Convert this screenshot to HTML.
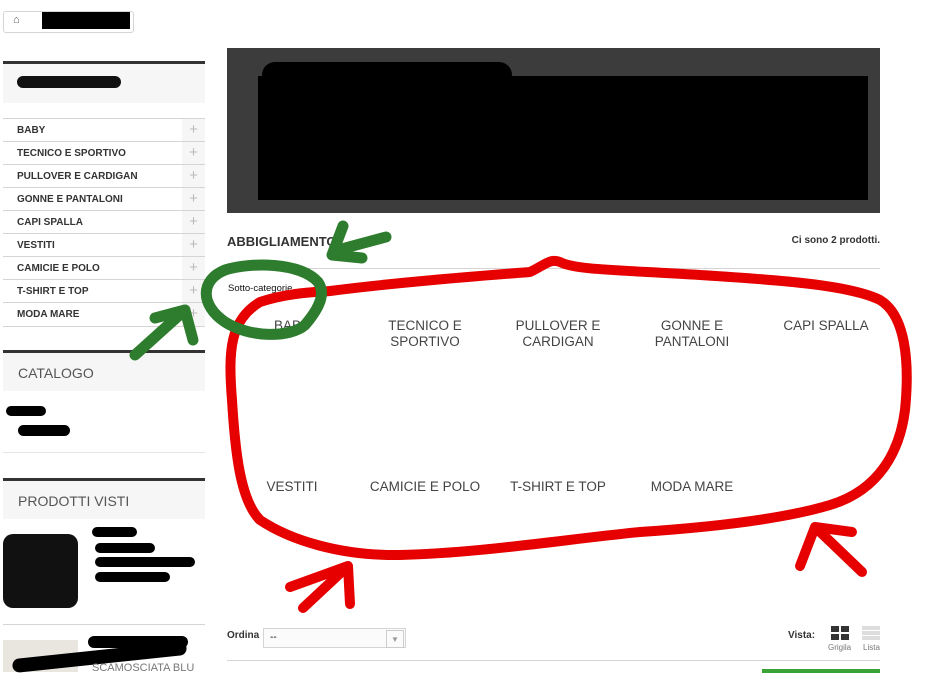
<!DOCTYPE html>
<html><head><meta charset="utf-8"><style>
body{margin:0;width:942px;height:672px;overflow:hidden;background:#fff;font-family:"Liberation Sans",Arial,sans-serif;position:relative}
.a{position:absolute}
.li{position:absolute;left:3px;width:202px;height:23px;border-top:1px solid #d6d4d4;font-size:10px;font-weight:bold;color:#333;line-height:23px}
.li span{margin-left:14px}
.li b{position:absolute;right:0;top:0;width:23px;height:23px;background:#f6f6f6;color:#bbb;font-size:15px;text-align:center;line-height:22px;font-weight:normal}
.hd{position:absolute;left:3px;width:202px;background:#f6f6f6;border-top:3px solid #333;font-size:14px;color:#555;}
.sc{position:absolute;width:120px;text-align:center;font-size:13.5px;color:#444;line-height:16px;text-transform:uppercase}
</style></head><body>
<div class="a" style="left:3px;top:11px;width:129px;height:20px;border:1px solid #d6d4d4;border-radius:3px"></div>
<div class="a" style="left:13px;top:14px;font-size:11px;color:#555">&#8962;</div>
<div class="a" style="left:42px;top:12px;width:88px;height:17px;background:#000"></div>

<div class="hd" style="top:61px;height:39px"></div>
<div class="a" style="left:17px;top:76px;width:104px;height:12px;background:#111;border-radius:6px"></div>
<div class="li" style="top:118px"><span>BABY</span><b>+</b></div>
<div class="li" style="top:141px"><span>TECNICO E SPORTIVO</span><b>+</b></div>
<div class="li" style="top:164px"><span>PULLOVER E CARDIGAN</span><b>+</b></div>
<div class="li" style="top:187px"><span>GONNE E PANTALONI</span><b>+</b></div>
<div class="li" style="top:210px"><span>CAPI SPALLA</span><b>+</b></div>
<div class="li" style="top:233px"><span>VESTITI</span><b>+</b></div>
<div class="li" style="top:256px"><span>CAMICIE E POLO</span><b>+</b></div>
<div class="li" style="top:279px"><span>T-SHIRT E TOP</span><b>+</b></div>
<div class="li" style="top:302px;border-bottom:1px solid #d6d4d4"><span>MODA MARE</span><b>+</b></div>

<div class="hd" style="top:350px;height:38px;line-height:40px"><span style="margin-left:15px">CATALOGO</span></div>
<div class="a" style="left:6px;top:406px;width:40px;height:10px;background:#000;border-radius:5px"></div>
<div class="a" style="left:18px;top:425px;width:52px;height:11px;background:#000;border-radius:6px"></div>
<div class="a" style="left:3px;top:452px;width:202px;border-top:1px solid #e5e5e5"></div>
<div class="hd" style="top:478px;height:38px;line-height:40px"><span style="margin-left:15px">PRODOTTI VISTI</span></div>
<div class="a" style="left:3px;top:534px;width:75px;height:74px;background:#111;border-radius:10px"></div>
<div class="a" style="left:92px;top:527px;width:45px;height:10px;background:#000;border-radius:5px"></div>
<div class="a" style="left:95px;top:543px;width:60px;height:10px;background:#000;border-radius:5px"></div>
<div class="a" style="left:95px;top:557px;width:100px;height:10px;background:#000;border-radius:5px"></div>
<div class="a" style="left:95px;top:572px;width:75px;height:10px;background:#000;border-radius:5px"></div>
<div class="a" style="left:3px;top:624px;width:202px;border-top:1px solid #d6d4d4"></div>
<div class="a" style="left:3px;top:640px;width:75px;height:32px;background:#e9e6df"></div>
<div class="a" style="left:12px;top:650px;width:175px;height:14px;background:#000;border-radius:7px;transform:rotate(-6deg)"></div>
<div class="a" style="left:88px;top:636px;width:100px;height:12px;background:#000;border-radius:6px"></div>
<div class="a" style="left:92px;top:662px;font-size:11px;color:#777">SCAMOSCIATA BLU</div>

<div class="a" style="left:227px;top:48px;width:653px;height:165px;background:#3c3c3c"></div>
<div class="a" style="left:258px;top:76px;width:610px;height:124px;background:#000"></div>
<div class="a" style="left:262px;top:62px;width:250px;height:26px;background:#000;border-radius:13px"></div>
<div class="a" style="left:227px;top:234px;font-size:13px;font-weight:bold;color:#333">ABBIGLIAMENTO</div>
<div class="a" style="left:780px;top:235px;width:100px;text-align:right;font-size:10px;font-weight:bold;color:#333">Ci sono 2 prodotti.</div>
<div class="a" style="left:227px;top:268px;width:653px;border-top:1px solid #d6d4d4"></div>
<div class="a" style="left:228px;top:283px;font-size:9.5px;color:#111">Sotto-categorie</div>
<div class="sc" style="left:232px;top:318px">BABY</div>
<div class="sc" style="left:365px;top:318px">TECNICO E SPORTIVO</div>
<div class="sc" style="left:498px;top:318px">PULLOVER E CARDIGAN</div>
<div class="sc" style="left:632px;top:318px">GONNE E PANTALONI</div>
<div class="sc" style="left:766px;top:318px">CAPI SPALLA</div>
<div class="sc" style="left:232px;top:479px">VESTITI</div>
<div class="sc" style="left:365px;top:479px">CAMICIE E POLO</div>
<div class="sc" style="left:498px;top:479px">T-SHIRT E TOP</div>
<div class="sc" style="left:632px;top:479px">MODA MARE</div>

<div class="a" style="left:227px;top:630px;font-size:10px;font-weight:bold;color:#333">Ordina</div>
<div class="a" style="left:263px;top:628px;width:141px;height:18px;border:1px solid #d6d4d4;background:#fbfbfb;font-size:10px;line-height:18px"><span style="margin-left:6px">--</span><span style="position:absolute;right:1px;top:1px;width:16px;height:16px;border:1px solid #ccc;color:#999;font-size:8px;text-align:center">▼</span></div>
<div class="a" style="left:788px;top:630px;font-size:10px;font-weight:bold;color:#333">Vista:</div>
<div class="a" style="left:831px;top:626px;width:8px;height:6px;background:#333"></div>
<div class="a" style="left:841px;top:626px;width:8px;height:6px;background:#333"></div>
<div class="a" style="left:831px;top:634px;width:8px;height:6px;background:#333"></div>
<div class="a" style="left:841px;top:634px;width:8px;height:6px;background:#333"></div>
<div class="a" style="left:862px;top:626px;width:18px;height:14px;background:repeating-linear-gradient(#ddd 0 4px,#fff 4px 5px)"></div>
<div class="a" style="left:828px;top:643px;font-size:8px;color:#777">Grigila</div>
<div class="a" style="left:863px;top:643px;font-size:8px;color:#777">Lista</div>
<div class="a" style="left:227px;top:660px;width:653px;border-top:1px solid #d6d4d4"></div>
<div class="a" style="left:762px;top:669px;width:118px;height:4px;background:#3aa335"></div>

<svg class="a" style="left:0;top:0" width="942" height="672" fill="none" stroke-linecap="round" stroke-linejoin="round">
<g stroke="#e60000" stroke-width="10">
<path d="M330,291 C400,282 480,276 530,272 C545,265 550,258 560,262 C575,270 620,270 700,275 C780,280 850,285 880,300 C905,315 910,360 905,410 C900,450 880,490 830,505 C780,520 700,528 640,532 C560,540 480,553 400,555 C340,556 290,540 260,520 C240,500 235,450 232,400 C228,350 230,320 260,302 C290,292 320,292 330,291"/>
<path d="M303,608 L348,566 M290,587 L348,566 L350,604"/>
<path d="M862,572 L815,527 M800,566 L815,527 L852,532"/>
</g>
<g stroke="#2e7d2e" stroke-width="11">
<path d="M318,282 C300,262 250,262 225,270 C200,280 200,305 225,322 C250,338 290,338 305,325 C322,305 325,292 318,282"/>
<path d="M135,355 L185,310 M155,318 L185,310 L193,340"/>
<path d="M386,237 L345,248 M343,226 L332,255 L362,258"/>
</g>
</svg>
</body></html>
